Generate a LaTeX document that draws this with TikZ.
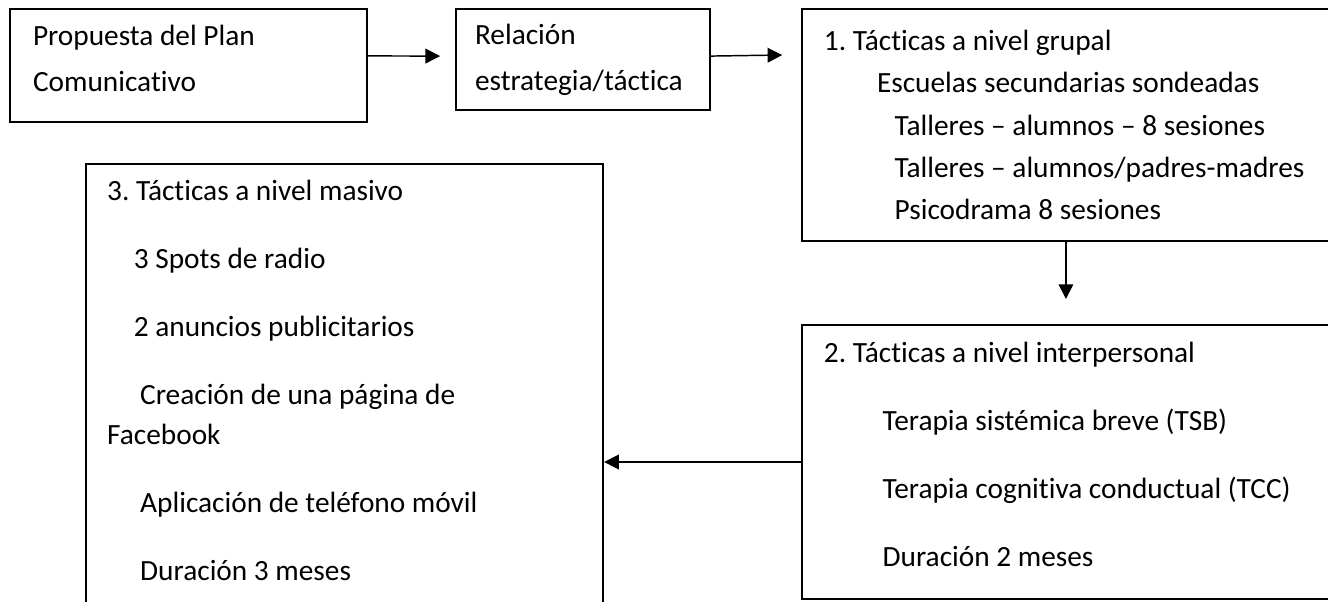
\documentclass[tikz,border=0pt]{standalone}
\usepackage{fontspec}
\setmainfont{Carlito}[Ligatures={NoCommon}]
\usetikzlibrary{arrows.meta, positioning}
\newcommand\tailgap[1]{\rule[-#1]{0pt}{#1}}

\begin{document}
\frenchspacing
\begin{tikzpicture}[
    stage/.style={draw, line width=0.75pt, align=flush left, anchor=north west, inner ysep=0pt, font=\fontsize{11}{15}\selectfont},
    arr/.style={-{Triangle[length=5.5pt, width=5.5pt]}, line width=0.55pt}
]
\clip (0,0) rectangle (498pt,-225.4pt);

\node[stage, inner xsep=8.6pt, text width=116.7pt, minimum height=42.4pt, font=\fontsize{11}{17.25}\selectfont] (propuesta) at (3.4pt,-3pt) {Propuesta del Plan\\Comunicativo\tailgap{5.2pt}};
\node[stage, inner xsep=7.1pt, text width=81pt, minimum height=37.9pt, font=\fontsize{11}{17.25}\selectfont, right=32.6pt of propuesta.north east, anchor=north west] (relacion) {Relación\\estrategia/táctica};
\node[stage, inner xsep=8.25pt, text width=181.5pt, minimum height=87pt, font=\fontsize{11}{15.9}\selectfont, right=33.75pt of relacion.north east, anchor=north west] (grupal) {1. Tácticas a nivel grupal\\
\hspace*{19.9pt}Escuelas secundarias sondeadas\\
\hspace*{26.5pt}Talleres – alumnos – 8 sesiones\\
\hspace*{26.5pt}Talleres – alumnos/padres-madres\\
\hspace*{26.5pt}Psicodrama 8 sesiones};
\node[stage, inner xsep=8.25pt, text width=181.5pt, minimum height=102.75pt, below=30.75pt of grupal] (interpersonal) {2. Tácticas a nivel interpersonal\\[10.5pt]
\hspace*{22pt}Terapia sistémica breve (TSB)\\[10.5pt]
\hspace*{22pt}Terapia cognitiva conductual (TCC)\\[10.5pt]
\hspace*{22pt}Duración 2 meses\tailgap{6pt}};
\node[stage, inner xsep=7.9pt, text width=178.1pt, minimum height=166.5pt, below right=15pt and 28.5pt of propuesta.south west] (masivo) {3. Tácticas a nivel masivo\\[10.5pt]
\hspace*{10pt}3 Spots de radio\\[10.5pt]
\hspace*{10pt}2 anuncios publicitarios\\[10.5pt]
\hspace*{12.4pt}Creación de una página de\\
Facebook\\[10.5pt]
\hspace*{12.4pt}Aplicación de teléfono móvil\\[10.5pt]
\hspace*{12.4pt}Duración 3 meses\tailgap{4pt}};

\draw[arr] ([yshift=3.6pt]propuesta.east) -- ([xshift=-5.6pt, yshift=1.3pt]relacion.west);
\draw[arr] ([yshift=1.3pt]relacion.east) -- ([xshift=-7pt, yshift=26.25pt]grupal.west);
\draw[arr] (grupal.south) -- ([yshift=9.4pt]interpersonal.north);
\draw[arr] (interpersonal.west) -- (masivo.east |- interpersonal.west);
\end{tikzpicture}
\end{document}
